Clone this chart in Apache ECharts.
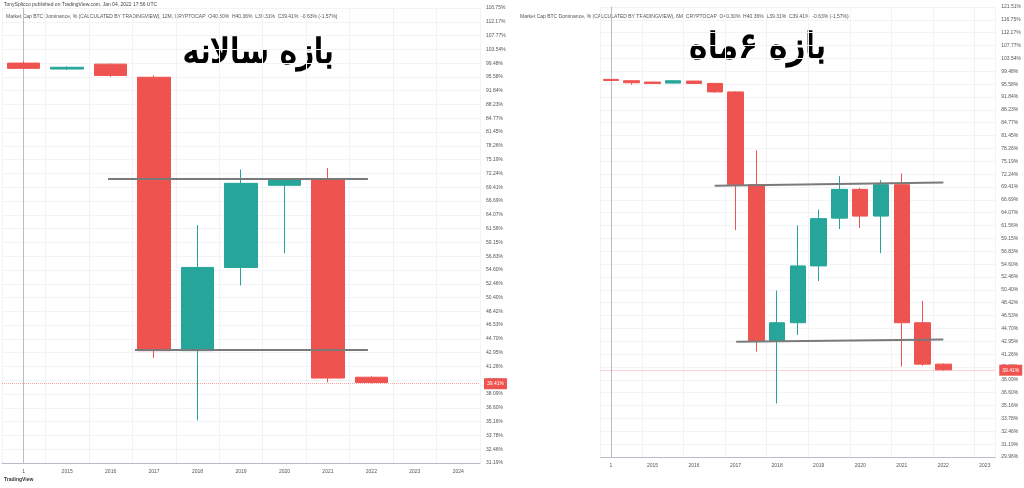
<!DOCTYPE html>
<html><head><meta charset="utf-8">
<script src="https://cdn.jsdelivr.net/npm/echarts@6/dist/echarts.min.js"></script>
<style>html,body{margin:0;padding:0;background:#fff}#c{width:1024px;height:488px}</style>
</head><body><div id="c"></div>
<script>
// Left: yearly candles (percent)
const leftCats = ['1','2015','2016','2017','2018','2019','2020','2021','2022','2023','2024'];
const leftOpen  = [99.5, 97.8, 99.2, 95.5, 43.2, 55.0, 69.8, 71.0, 40.0];
const leftClose = [98.0, 98.3, 96.0, 43.2, 55.0, 70.2, 71.0, 39.9, 39.4];
const leftLow   = [97.8, 97.6, 95.6, 42.3, 35.3, 52.2, 57.3, 39.4, 39.3];
const leftHigh  = [100.0,98.6, 99.4, 96.0, 62.2, 73.1, 71.3, 73.4, 40.1];
const leftTopLine = [[1.94, 71.1],[7.92, 71.1]];
const leftBotLine = [[2.56, 43.3],[7.92, 43.3]];
// Right: 6-month candles
const rightCats = ['1','H2-14','2015','H2-15','2016','H2-16','2017','H2-17','2018','H2-18','2019','H2-19','2020','H2-20','2021','H2-21','2022','H2-22','2023'];
const rightOpen  = [97.0,96.6,96.2,95.9,96.5,95.8,93.3,69.9,43.0,45.5,54.3,63.0,68.9,63.4,69.9,45.5,40.0];
const rightClose = [96.7,96.0,95.8,96.6,95.8,93.3,69.9,43.0,45.5,54.3,62.9,68.9,63.4,69.9,45.5,40.0,39.3];
const rightLow   = [96.6,95.4,95.7,95.8,95.7,93.1,60.7,41.6,35.4,43.8,51.8,60.9,61.1,56.5,39.7,39.8,39.2];
const rightHigh  = [97.1,96.7,96.3,96.7,96.6,95.9,93.5,77.8,50.3,61.6,64.7,71.8,69.2,70.9,72.4,48.7,40.1];
const rightTopLine = [[5.0, 69.7],[16.0, 70.4]];
const rightBotLine = [[6.03, 42.9],[16.0, 43.2]];
const lastPrice = 39.41;

const L = Math.log;
const red='#ef5350', teal='#26a69a';
function candles(o,c,l,h){return o.map((v,i)=>[L(v),L(c[i]),L(l[i]),L(h[i])]);}
function lineData(a){return a.map(p=>[p[0],L(p[1])]);}
const gridLine={show:true,lineStyle:{color:'#f1f3f7',width:1}};
function yAx(idx,min,max,interval){
  return {type:'value',gridIndex:idx,position:'right',min,max,interval,scale:true,
    axisLine:{show:true,lineStyle:{color:'#b8bcc6'}},axisTick:{show:false},
    splitLine:{show:true,lineStyle:{color:'#f1f3f7'}},
    axisLabel:{fontSize:5,color:'#555',margin:6,formatter:v=>Math.exp(v).toFixed(2)+'%'}};
}
function lastLine(dist){
  return {symbol:'none',silent:true,data:[{yAxis:L(lastPrice)}],lineStyle:{color:'rgba(239,83,80,0.5)',type:'dotted',width:1},
    label:{position:'end',formatter:lastPrice.toFixed(2)+'%',backgroundColor:red,color:'#fff',fontSize:5,padding:[3,3],distance:dist}};
}
const chart=echarts.init(document.getElementById('c'));
chart.setOption({
  animation:false,
  grid:[{left:2,width:478,top:8,bottom:25},{left:600.5,width:401,top:7,bottom:31}],
  xAxis:[
    {type:'category',gridIndex:0,data:leftCats,axisLine:{lineStyle:{color:'#b8bcc6'}},axisTick:{show:false},
     splitLine:gridLine,axisLabel:{fontSize:5,color:'#555',margin:6}},
    {type:'category',gridIndex:1,data:rightCats,axisLine:{lineStyle:{color:'#b8bcc6'}},axisTick:{show:false},
     splitLine:{show:true,interval:1,lineStyle:{color:'#f1f3f7'}},axisLabel:{fontSize:5,color:'#555',margin:6,interval:1}},
    {type:'value',gridIndex:0,min:-0.5,max:10.5,show:false},
    {type:'value',gridIndex:1,min:-0.5,max:18.5,show:false}
  ],
  yAxis:[yAx(0,3.44,4.76,0.04),yAx(1,3.40,4.80,0.04)],
  series:[
    {type:'candlestick',xAxisIndex:0,yAxisIndex:0,barWidth:33,data:candles(leftOpen,leftClose,leftLow,leftHigh),
     itemStyle:{color:teal,color0:red,borderColor:teal,borderColor0:red,borderWidth:1},markLine:lastLine(4)},
    {type:'candlestick',xAxisIndex:1,yAxisIndex:1,barWidth:16,data:candles(rightOpen,rightClose,rightLow,rightHigh),
     itemStyle:{color:teal,color0:red,borderColor:teal,borderColor0:red,borderWidth:1},markLine:lastLine(4)},
    {type:'line',xAxisIndex:2,yAxisIndex:0,data:lineData(leftTopLine),symbol:'none',lineStyle:{color:'#7a7a7a',width:2}},
    {type:'line',xAxisIndex:2,yAxisIndex:0,data:lineData(leftBotLine),symbol:'none',lineStyle:{color:'#7a7a7a',width:2}},
    {type:'line',xAxisIndex:3,yAxisIndex:1,data:lineData(rightTopLine),symbol:'none',lineStyle:{color:'#7a7a7a',width:2}},
    {type:'line',xAxisIndex:3,yAxisIndex:1,data:lineData(rightBotLine),symbol:'none',lineStyle:{color:'#7a7a7a',width:2}}
  ],
  graphic:[
    {type:'text',left:182,top:36,style:{text:'بازه سالانه',font:'34px "DejaVu Sans"',fill:'#000',stroke:'#000',lineWidth:1.6}},
    {type:'text',left:688,top:30,style:{text:'بازه ۶ماه',font:'36px "DejaVu Sans"',fill:'#000',stroke:'#000',lineWidth:1.6}},
    {type:'text',left:4,top:2,style:{text:'TonySplicco published on TradingView.com, Jan 04, 2022 17:56 UTC',font:'5px sans-serif',fill:'#444'}},
    {type:'text',left:6,top:14,style:{text:'Market Cap BTC Dominance, % (CALCULATED BY TRADINGVIEW), 12M, CRYPTOCAP  O40.30%  H40.36%  L39.31%  C39.41%  -0.63% (-1.57%)',font:'5px sans-serif',fill:'#555'}},
    {type:'text',left:520,top:14,style:{text:'Market Cap BTC Dominance, % (CALCULATED BY TRADINGVIEW), 6M, CRYPTOCAP  O40.30%  H40.36%  L39.31%  C39.41%  -0.63% (-1.57%)',font:'5px sans-serif',fill:'#555'}},
    {type:'text',left:4,top:477,style:{text:'TradingView',font:'bold 5px sans-serif',fill:'#333'}}
  ]
});
</script></body></html>
